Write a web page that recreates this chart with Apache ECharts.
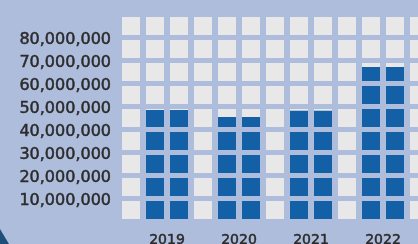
<!DOCTYPE html>
<html>
<head>
<meta charset="utf-8">
<script src="https://cdn.jsdelivr.net/npm/echarts@6/dist/echarts.min.js"></script>
<style>
html,body{margin:0;padding:0;background:#afbddc;}
#chart{width:418px;height:244px;}
</style>
</head>
<body>
<div id="chart"></div>
<script>
const years = ['2019', '2020', '2021', '2022'];
const values = [48500000, 45400000, 48200000, 67200000];
const yMax = 90000000;
const yStep = 10000000;
const columnCount = 13;

const BG = '#afbddc';
const CELL = '#e8e8e8';
const BAR = '#1360a6';
const TEXT = '#2b2b2b';

function fmt(v) {
  return String(v).replace(/\B(?=(\d{3})+(?!\d))/g, ',');
}

const chart = echarts.init(document.getElementById('chart'), null, {renderer: 'canvas'});
chart.setOption({
  backgroundColor: BG,
  animation: false,
  grid: [
    {left: 119, width: 312, top: 14.5, height: 207, show: true, backgroundColor: CELL, borderWidth: 0,
      outerBoundsMode: 'none', containLabel: false},
    {left: 131, width: 288, top: 14.5, height: 207, show: false, outerBoundsMode: 'none', containLabel: false}
  ],
  xAxis: [
    {
      gridIndex: 0, type: 'value', min: 0, max: columnCount, interval: 1, z: 5,
      axisLine: {show: false}, axisTick: {show: false}, axisLabel: {show: false},
      splitLine: {show: true, lineStyle: {color: BG, width: 6}}
    },
    {
      gridIndex: 1, type: 'category', data: years, z: 6,
      axisLine: {show: false}, axisTick: {show: false},
      axisLabel: {color: TEXT, fontFamily: 'DejaVu Sans', fontWeight: 'normal', fontSize: 14, margin: 12,
        textBorderColor: TEXT, textBorderWidth: 0.5},
      splitLine: {show: false}
    }
  ],
  yAxis: [
    {
      gridIndex: 0, type: 'value', min: 0, max: yMax, interval: yStep, z: 5,
      axisLine: {show: false}, axisTick: {show: false},
      axisLabel: {
        color: TEXT, fontFamily: 'DejaVu Sans', fontWeight: 'normal', fontSize: 16, margin: 8,
        textBorderColor: TEXT, textBorderWidth: 0.5, verticalAlign: 'top', lineHeight: 4,
        formatter: function (v) { return (v === 0 || v === yMax) ? '' : fmt(v); }
      },
      splitLine: {show: true, lineStyle: {color: BG, width: 5}}
    },
    {
      gridIndex: 1, type: 'value', min: 0, max: yMax, interval: yStep, show: false,
      splitLine: {show: false}
    }
  ],
  series: [
    {
      type: 'bar', xAxisIndex: 1, yAxisIndex: 1, data: values, barWidth: 48, z: 2,
      itemStyle: {color: BAR}
    }
  ],
  graphic: [
    {
      type: 'polygon', z: 10,
      shape: {points: [[0, 229], [9, 244], [0, 244]]},
      style: {fill: '#1d4f78'}
    }
  ]
});
</script>
</body>
</html>
